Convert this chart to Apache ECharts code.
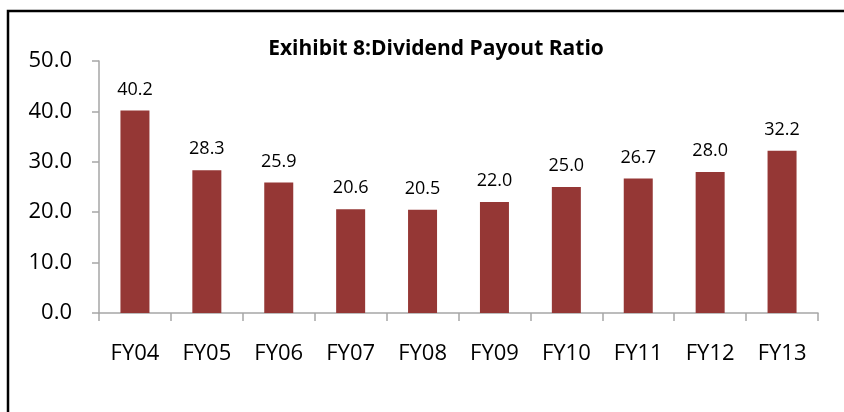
<!DOCTYPE html>
<html>
<head>
<meta charset="utf-8">
<script src="https://cdn.jsdelivr.net/npm/echarts@6/dist/echarts.min.js"></script>
<style>
  html, body { margin: 0; padding: 0; background: #fff; }
  #chart { width: 844px; height: 412px; }
</style>
</head>
<body>
<div id="chart"></div>
<script>
const categories = ['FY04', 'FY05', 'FY06', 'FY07', 'FY08', 'FY09', 'FY10', 'FY11', 'FY12', 'FY13'];
const payoutRatio = [40.2, 28.3, 25.9, 20.6, 20.5, 22.0, 25.0, 26.7, 28.0, 32.2];
const yTicks = [0, 10, 20, 30, 40, 50];

const font = 'Open Sans, Noto Sans, sans-serif';
const axisGray = '#a6a6a6';

const chart = echarts.init(document.getElementById('chart'));

chart.setOption({
  animation: false,
  title: {
    text: 'Exihibit 8:Dividend Payout Ratio',
    left: 431,
    top: 34,
    textAlign: 'center',
    textStyle: { fontFamily: font, fontSize: 21, fontWeight: 'bold', color: '#000' }
  },
  graphic: [{
    type: 'rect',
    shape: { x: 8, y: 11, width: 860, height: 420 },
    style: { fill: 'none', stroke: '#000', lineWidth: 2.5 },
    silent: true
  }],
  grid: { left: 99, right: 26, top: 61, bottom: 99 },
  xAxis: {
    type: 'category',
    data: categories,
    axisLine: { lineStyle: { color: axisGray, width: 1.5 } },
    axisTick: { show: true, length: 8, lineStyle: { color: axisGray, width: 1.5 } },
    axisLabel: { fontFamily: font, fontSize: 22, color: '#000', margin: 30 }
  },
  yAxis: {
    type: 'value',
    min: yTicks[0],
    max: yTicks[yTicks.length - 1],
    interval: 10,
    axisLine: { show: true, lineStyle: { color: axisGray, width: 1.5 } },
    axisTick: { show: true, length: 7, lineStyle: { color: axisGray, width: 1.5 } },
    splitLine: { show: false },
    axisLabel: {
      fontFamily: font, fontSize: 22, color: '#000', margin: 27,
      formatter: (v) => v.toFixed(1)
    }
  },
  series: [{
    type: 'bar',
    data: payoutRatio,
    barWidth: 29,
    itemStyle: { color: '#953735' },
    label: {
      show: true,
      position: 'top',
      distance: 12,
      fontFamily: font,
      fontSize: 18,
      color: '#000',
      formatter: (p) => p.value.toFixed(1)
    }
  }]
});
</script>
</body>
</html>
